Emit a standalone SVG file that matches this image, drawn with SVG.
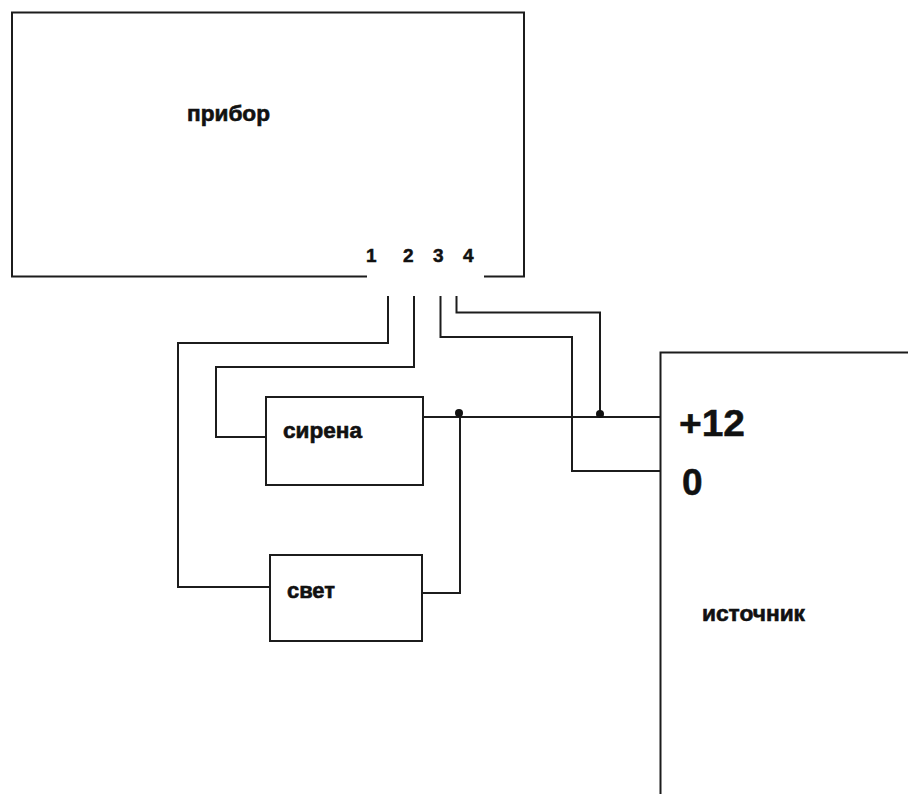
<svg xmlns="http://www.w3.org/2000/svg" width="908" height="794" viewBox="0 0 908 794">
<style>
.s{fill:none;stroke:#1c1c1c;stroke-width:2}
.t{font-family:"Liberation Sans",Arial,sans-serif;font-weight:bold;fill:#111;stroke:#111;stroke-width:.6;font-size:22px}
.n{font-family:"Liberation Sans",Arial,sans-serif;font-weight:bold;fill:#111;stroke:#111;stroke-width:.5;font-size:19px}
.b{font-family:"Liberation Sans",Arial,sans-serif;font-weight:bold;fill:#111;stroke:#111;stroke-width:.5;font-size:37px}
.d{fill:#111}
</style>
<rect width="908" height="794" fill="#fff"/>
<g id="device">
<path class="s" d="M367 276.500H12V12.500H524V276.500H484"/>
<text class="t" x="187" y="121" textLength="83" lengthAdjust="spacingAndGlyphs">прибор</text>
<text class="n" x="366" y="262">1</text>
<text class="n" x="403" y="262">2</text>
<text class="n" x="433" y="262">3</text>
<text class="n" x="463" y="262">4</text>
</g>
<g id="siren">
<rect class="s" x="266" y="397" width="157" height="88"/>
<text class="t" x="283" y="438" textLength="79" lengthAdjust="spacingAndGlyphs">сирена</text>
</g>
<g id="light">
<rect class="s" x="270" y="555" width="152" height="86"/>
<text class="t" x="287" y="598" textLength="48" lengthAdjust="spacingAndGlyphs">свет</text>
</g>
<g id="source">
<path class="s" d="M908 352.500H660.500V794"/>
<text class="b" x="679" y="436" textLength="66" lengthAdjust="spacingAndGlyphs">+12</text>
<text class="b" x="682" y="495">0</text>
<text class="t" x="702" y="621" textLength="103" lengthAdjust="spacingAndGlyphs">источник</text>
</g>
<g id="connectors">
<path class="s" d="M388 296V343H178V587H270"/>
<path class="s" d="M414 296V367H216V437H266"/>
<path class="s" d="M440.500 296V337H572V471H660"/>
<path class="s" d="M456.500 296V312.500H600V417"/>
<path class="s" d="M423 417H660"/>
<path class="s" d="M460 413V593H422"/>
<circle class="d" cx="600" cy="414" r="4"/>
<circle class="d" cx="459" cy="413" r="4"/>
</g>
</svg>
